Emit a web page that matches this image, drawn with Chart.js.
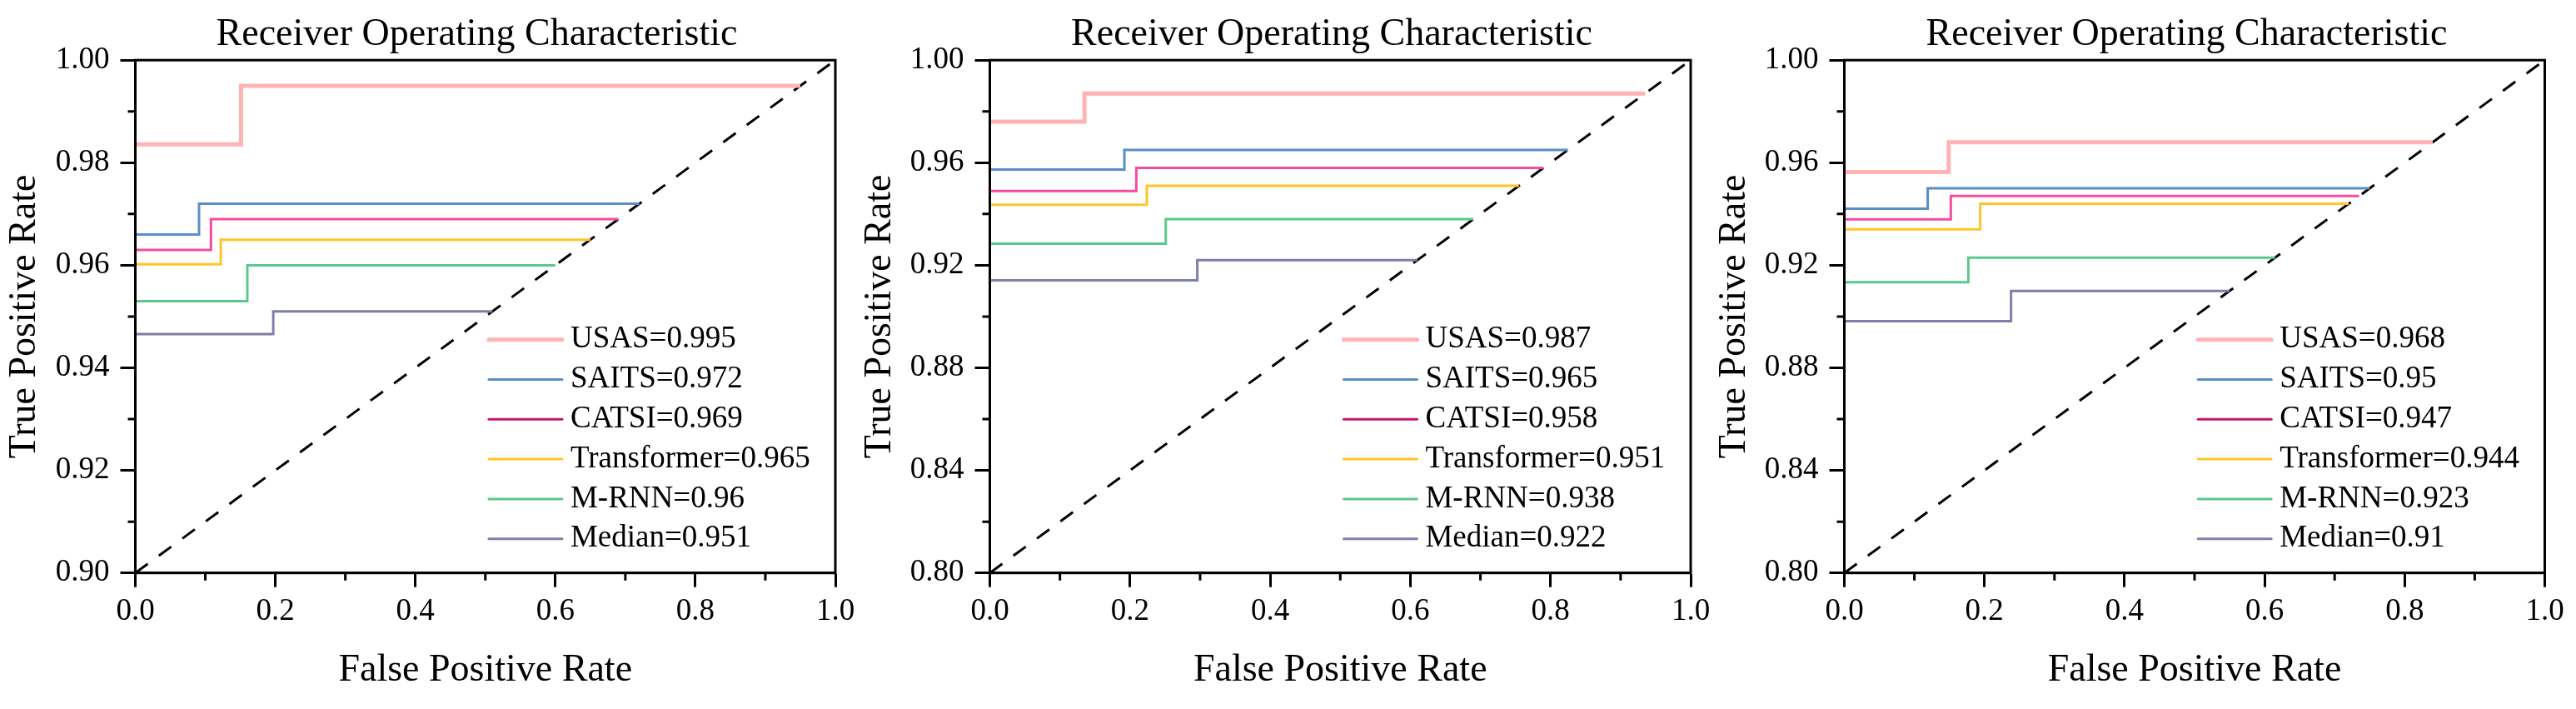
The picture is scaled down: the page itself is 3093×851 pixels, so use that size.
<!DOCTYPE html>
<html><head><meta charset="utf-8">
<script src="https://cdn.jsdelivr.net/npm/chart.js@4.4.1/dist/chart.umd.min.js"></script>
<style>
html,body{margin:0;padding:0;background:#fff;width:3093px;height:851px;overflow:hidden;}
#wrap{position:relative;width:3093px;height:851px;overflow:hidden;background:#fff;}
canvas{position:absolute;top:0;}
</style></head><body><div id="wrap"></div>
<script>
// ---------------- data ----------------
const methods = ['USAS', 'SAITS', 'CATSI', 'Transformer', 'M-RNN', 'Median'];

// panel 1
const auc1  = [0.995, 0.972, 0.969, 0.965, 0.96, 0.951];
const low1  = [0.9836, 0.966, 0.963, 0.9602, 0.953, 0.9466];
const step1 = [0.151, 0.091, 0.108, 0.122, 0.160, 0.197];
const end1  = [0.95, 0.72, 0.69, 0.65, 0.60, 0.51];
// panel 2
const auc2  = [0.987, 0.965, 0.958, 0.951, 0.938, 0.922];
const low2  = [0.976, 0.9573, 0.949, 0.9436, 0.9284, 0.9141];
const step2 = [0.135, 0.192, 0.209, 0.224, 0.251, 0.296];
const end2  = [0.935, 0.825, 0.79, 0.755, 0.69, 0.61];
// panel 3
const auc3  = [0.968, 0.95, 0.947, 0.944, 0.923, 0.91];
const low3  = [0.9564, 0.9421, 0.9379, 0.934, 0.9134, 0.8982];
const step3 = [0.149, 0.119, 0.152, 0.194, 0.177, 0.238];
const end3  = [0.84, 0.75, 0.735, 0.72, 0.615, 0.55];

// ticks
const xTicks  = [0, 0.2, 0.4, 0.6, 0.8, 1.0];
const xMinor  = [0.1, 0.3, 0.5, 0.7, 0.9];
const yTicks1 = [0.90, 0.92, 0.94, 0.96, 0.98, 1.00];
const yMinor1 = [0.91, 0.93, 0.95, 0.97, 0.99];
const yTicks2 = [0.80, 0.84, 0.88, 0.92, 0.96, 1.00];
const yMinor2 = [0.82, 0.86, 0.90, 0.94, 0.98];
const yTicks3 = [0.80, 0.84, 0.88, 0.92, 0.96, 1.00];
const yMinor3 = [0.82, 0.86, 0.90, 0.94, 0.98];

// chance diagonal (corner to corner of each plot)
const diag1 = [[0, 0.90], [1, 1.00]];
const diag2 = [[0, 0.80], [1, 1.00]];
const diag3 = [[0, 0.80], [1, 1.00]];

const titleText = 'Receiver Operating Characteristic';
const xTitle = 'False Positive Rate';
const yTitle = 'True Positive Rate';

// ---------------- styles ----------------
const FONT = "'Liberation Serif', 'Times New Roman', serif";
const lineColors   = ['#FFB3B3', '#5B8DC8', '#F54BA0', '#FFC527', '#5BC98B', '#7E7FA8'];
const legendColors = ['#FFB3B3', '#5B8DC8', '#C8146E', '#FFC527', '#5BC98B', '#7E7FA8'];
const lineWidths   = [5, 3, 3, 3, 3, 3];

// geometry (absolute page px): plot left/right, title centre, y-title centre
const geo = [
  {plotL: 162.5,  plotR: 1003,   titleC: 572.7,  yTitleC: 30},
  {plotL: 1188.5, plotR: 2030,   titleC: 1599,   yTitleC: 1056.5},
  {plotL: 2214.5, plotR: 3055.5, titleC: 2625.6, yTitleC: 2083}
];
const H = 851, PLOT_BOTTOM = 687.7;

const panels = [
  {auc: auc1, low: low1, step: step1, end: end1, yTicks: yTicks1, yMinor: yMinor1, diag: diag1, yDec: 2},
  {auc: auc2, low: low2, step: step2, end: end2, yTicks: yTicks2, yMinor: yMinor2, diag: diag2, yDec: 2},
  {auc: auc3, low: low3, step: step3, end: end3, yTicks: yTicks3, yMinor: yMinor3, diag: diag3, yDec: 2}
];

// ---------------- plugins ----------------
const frame = {
  id: 'frame',
  afterDraw(chart, args, o) {
    const {ctx, chartArea: a, scales} = chart;
    ctx.save();
    ctx.strokeStyle = '#000';
    ctx.lineWidth = 3;
    ctx.strokeRect(a.left, a.top, a.right - a.left, a.bottom - a.top);
    ctx.beginPath();
    o.xMinor.forEach(v => {
      const px = scales.x.getPixelForValue(v);
      ctx.moveTo(px, a.bottom); ctx.lineTo(px, a.bottom + 9);
    });
    o.yMinor.forEach(v => {
      const py = scales.y.getPixelForValue(v);
      ctx.moveTo(a.left, py); ctx.lineTo(a.left - 9, py);
    });
    ctx.stroke();
    ctx.restore();
  }
};

const insideLegend = {
  id: 'insideLegend',
  afterDraw(chart, args, o) {
    const {ctx, chartArea: a} = chart;
    const items = chart.data.datasets.filter(d => d.inLegend);
    const n = items.length;
    const x0 = a.left + o.xFrac * (a.right - a.left);
    ctx.save();
    ctx.font = o.fontSize + 'px ' + FONT;
    ctx.textBaseline = 'middle';
    ctx.textAlign = 'left';
    items.forEach((d, i) => {
      const y = a.bottom - o.bottomGap - (n - 1 - i) * o.rowH;
      ctx.beginPath();
      ctx.strokeStyle = d.legendColor;
      ctx.lineWidth = d.borderWidth;
      ctx.lineCap = 'round';
      ctx.moveTo(x0, y);
      ctx.lineTo(x0 + o.sample, y);
      ctx.stroke();
      ctx.fillStyle = '#000';
      ctx.fillText(d.label, x0 + o.sample + o.gap, y);
    });
    ctx.restore();
  }
};

// ---------------- build ----------------
const wrap = document.getElementById('wrap');

panels.forEach((p, idx) => {
  const g = geo[idx];
  const canvasX = Math.floor(g.yTitleC - 29.6);
  const yTitlePad = g.yTitleC - canvasX - 46 * 1.2 / 2;
  const W = Math.round(2 * (g.titleC - canvasX));
  const plotLrel = g.plotL - canvasX;
  const plotRrel = g.plotR - canvasX;
  const dummyW = W - plotRrel;

  const canvas = document.createElement('canvas');
  canvas.width = W; canvas.height = H;
  canvas.style.left = canvasX + 'px';
  canvas.style.width = W + 'px';
  canvas.style.height = H + 'px';
  wrap.appendChild(canvas);

  const datasets = methods.map((m, k) => ({
    label: m + '=' + p.auc[k],
    inLegend: true,
    legendColor: legendColors[k],
    data: [
      {x: 0, y: p.low[k]},
      {x: p.step[k], y: p.low[k]},
      {x: p.step[k], y: p.auc[k]},
      {x: p.end[k], y: p.auc[k]}
    ],
    borderColor: lineColors[k],
    backgroundColor: lineColors[k],
    borderWidth: lineWidths[k],
    showLine: true,
    pointRadius: 0,
    pointHoverRadius: 0,
    fill: false,
    tension: 0,
    borderJoinStyle: 'miter',
    borderCapStyle: 'butt'
  }));
  datasets.push({
    label: 'chance',
    inLegend: false,
    data: p.diag.map(([x, y]) => ({x, y})),
    borderColor: '#000',
    borderWidth: 3,
    borderDash: [18.5, 16.5],
    showLine: true,
    pointRadius: 0,
    pointHoverRadius: 0,
    fill: false
  });

  new Chart(canvas, {
    type: 'scatter',
    data: {datasets},
    options: {
      responsive: false,
      maintainAspectRatio: false,
      devicePixelRatio: 1,
      animation: false,
      events: [],
      layout: {padding: 0},
      scales: {
        x: {
          type: 'linear', position: 'bottom', min: 0, max: 1,
          afterBuildTicks: s => { s.ticks = xTicks.map(v => ({value: v})); },
          afterFit: s => { s.height = H - PLOT_BOTTOM; },
          ticks: {callback: v => Number(v).toFixed(1), color: '#000', font: {family: FONT, size: 37}, padding: 7.6, maxRotation: 0, autoSkip: false},
          grid: {display: true, drawOnChartArea: false, drawTicks: true, tickLength: 17, tickWidth: 3, tickColor: '#000'},
          border: {display: true, width: 3, color: '#000'},
          title: {display: true, text: xTitle, color: '#000', font: {family: FONT, size: 46}, padding: {top: 0, bottom: 18.4}}
        },
        y: {
          type: 'linear', position: 'left', min: p.yTicks[0], max: p.yTicks[p.yTicks.length - 1],
          afterBuildTicks: s => { s.ticks = p.yTicks.map(v => ({value: v})); },
          afterFit: s => { s.width = plotLrel; },
          ticks: {callback: v => Number(v).toFixed(p.yDec), color: '#000', font: {family: FONT, size: 37}, padding: 13, autoSkip: false},
          grid: {display: true, drawOnChartArea: false, drawTicks: true, tickLength: 18, tickWidth: 3, tickColor: '#000'},
          border: {display: true, width: 3, color: '#000'},
          title: {display: true, text: yTitle, color: '#000', font: {family: FONT, size: 46}, padding: {top: yTitlePad, bottom: 0}}
        },
        yR: {
          type: 'linear', position: 'right', min: 0, max: 1, display: true,
          afterFit: s => { s.width = dummyW; },
          ticks: {display: false},
          grid: {display: false},
          border: {display: false}
        }
      },
      plugins: {
        legend: {display: false},
        tooltip: {enabled: false},
        title: {
          display: true, text: titleText, color: '#000',
          font: {family: FONT, size: 46, weight: 'normal'},
          padding: {top: 14, bottom: 3}
        },
        frame: {xMinor: xMinor, yMinor: p.yMinor},
        insideLegend: {xFrac: 0.505, sample: 88, gap: 10, fontSize: 37, rowH: 47.8, bottomGap: 41}
      }
    },
    plugins: [frame, insideLegend]
  });
});
</script>
</body></html>
